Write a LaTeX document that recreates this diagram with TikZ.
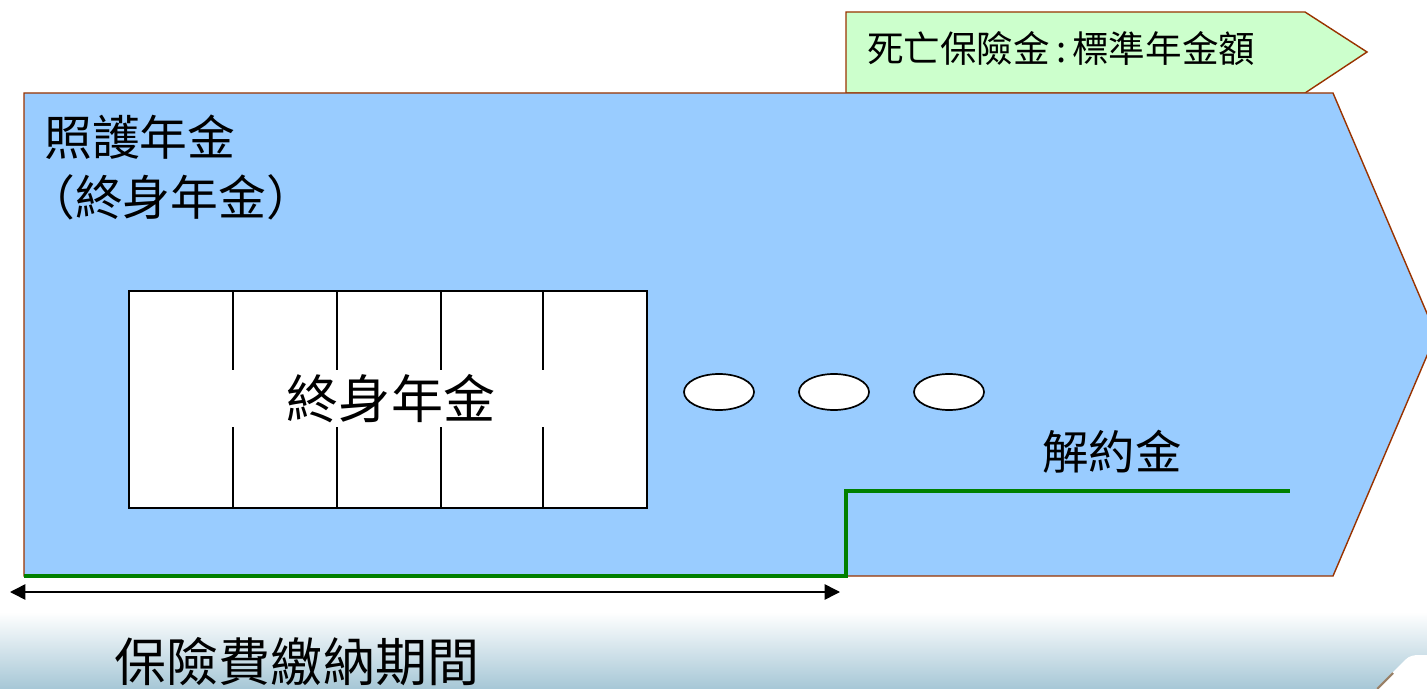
\documentclass[tikz,border=0pt]{standalone}
\usepackage{fontspec}
\setmainfont{Noto Sans CJK TC}
\usetikzlibrary{arrows.meta,shapes.geometric}

\definecolor{careblue}{RGB}{153,204,255}
\definecolor{edgebrown}{RGB}{153,51,0}
\definecolor{deathgreen}{RGB}{204,255,204}
\definecolor{surrgreen}{RGB}{0,128,0}
\definecolor{bandblue}{RGB}{166,199,214}

\tikzset{
  label/.style={inner sep=0pt, font=\fontsize{#1}{#1}\selectfont},
  dot/.style={ellipse, draw, fill=white, line width=1.2pt, minimum width=1.75cm, minimum height=0.9cm},
  period/.style={{Triangle[length=11pt,width=11pt]}-{Triangle[length=11pt,width=11pt]}, line width=1.1pt}
}

\begin{document}
\begin{tikzpicture}[x=0.025cm,y=-0.025cm]
  \useasboundingbox (0,0) rectangle (1427,689);

  % background
  \shade[top color=white, bottom color=bandblue] (0,612) rectangle (1427,689);
  \fill[white] (1376,689) -- (1405,660) to[out=45,in=180] (1420,655) -- (1427,655) -- (1427,689) -- cycle;
  \draw[brown!40!gray, line width=1.5pt] (1377,689) -- (1393,673);

  % shapes
  \draw[edgebrown, fill=deathgreen, line width=1pt] (846,12) -- (1305,12) -- (1367,52) -- (1305,93) -- (846,93) -- cycle;
  \draw[edgebrown, fill=careblue, line width=1pt] (24,93) -- (1333,93) -- (1436,334.5) -- (1333,576) -- (24,576) -- cycle;

  % annuity box
  \node (box) [draw, fill=white, line width=1.2pt, minimum width=12.95cm, minimum height=5.425cm, inner sep=0pt] at (388,399.5) {};
  \foreach \x in {233,337,441,543} {
    \draw[line width=1.2pt] (\x,291) -- (\x,370);
    \draw[line width=1.2pt] (\x,427) -- (\x,508);
  }

  % nodes
  \node[label=26, anchor=base west] (death) at (867,63) {死亡保險金\,:\,標準年金額};
  \node[label=34, anchor=base west] (care) at (44,156) {照護年金};
  \node[label=34, anchor=base west] (life) at (27,216) {（終身年金）};
  \node[label=37] (annuity) at (391,399) {終身年金};
  \node[label=33] (surrender) at (1112,452) {解約金};
  \node[label=37] (paying) at (297,662) {保險費繳納期間};
  \node[dot] (dot1) at (719,392) {};
  \node[dot] (dot2) at (834,392) {};
  \node[dot] (dot3) at (949,392) {};

  % lines
  \coordinate (start) at (24,576);
  \coordinate (stepl) at (846,576);
  \coordinate (stepu) at (846,491);
  \coordinate (stepend) at (1290,491);
  \draw[surrgreen, line width=2.2pt] (start) -- (stepl) -- (stepu) -- (stepend);

  \coordinate (payl) at (10,592);
  \coordinate (payr) at (840,592);
  \draw[period] (payl) -- (payr);

\end{tikzpicture}
\end{document}
